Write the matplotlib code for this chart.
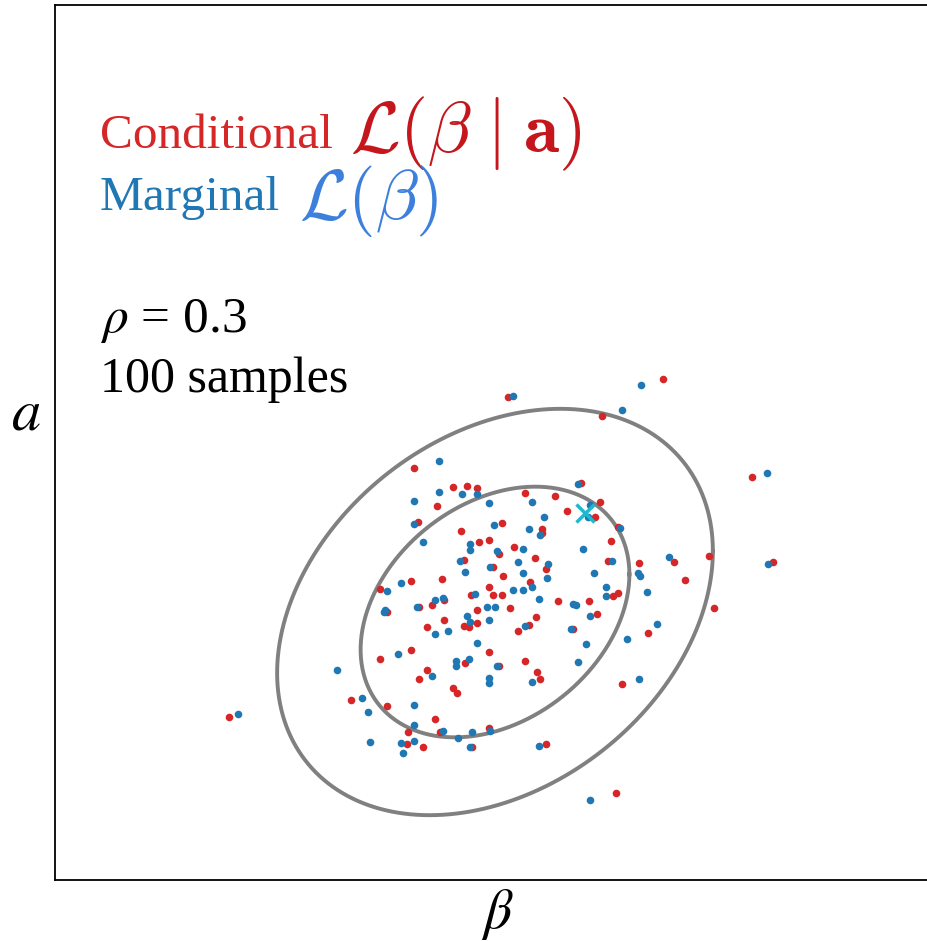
import numpy as np
import matplotlib
matplotlib.use("Agg")
import matplotlib.pyplot as plt

plt.rcParams['font.family'] = ['Liberation Serif', 'DejaVu Serif']
plt.rcParams['mathtext.fontset'] = 'stix'

# samples drawn from the conditional likelihood (red)
cond_beta = [-0.81, -0.42, -0.28, -0.18, -0.58, -0.77, -0.34, -0.16, -0.06, -0.31,
             -0.02, -0.84, -0.53, -1.15, -0.06, -0.24, -0.02, -0.51, -0.63, -0.76,
             -0.18, 0.86, 0.30, 0.60, 0.72, 1.05, 1.00, 0.07, 0.47, 0.47,
             1.23, 1.16, 0.19, 0.04, 0.40, 1.13, 0.51, 0.08, 0.35, 0.07,
             1.18, 1.23, 0.63, 0.94, 0.15, -1.08, -0.51, -0.68, -0.31, -0.26,
             -0.18, -0.84, -1.15, -0.06, -0.30, -0.68, -0.76, -0.42, -0.38, -1.44,
             -1.08, -0.60, -0.87, -0.55, -0.06, -0.88, -0.72, -0.23, -2.66, 1.02,
             0.41, 0.34, 0.23, 0.78, 1.53, 0.30, 0.04, 0.42, 0.45, 1.27,
             0.51, 1.90, 1.21, 0.13, 1.68, 1.07, 1.44, 1.79, 2.57, 2.14,
             2.19, 2.78]
cond_a = [1.44, 1.25, 1.26, 1.24, 1.06, 0.90, 0.81, 0.70, 0.72, 0.52,
          0.45, 0.31, 0.33, 0.23, 0.25, 0.17, 0.17, 0.12, 0.07, 0.05,
          0.02, 1.29, 1.19, 1.16, 1.01, 1.10, 0.95, 0.89, 0.83, 0.79,
          0.85, 0.71, 0.65, 0.58, 0.54, 0.51, 0.43, 0.36, 0.30, 0.17,
          0.16, 0.19, 0.11, 0.11, 0.04, 0.00, -0.08, -0.15, -0.14, -0.15,
          -0.11, -0.38, -0.47, -0.40, -0.51, -0.58, -0.67, -0.76, -0.81, -0.88,
          -0.94, -1.07, -1.20, -1.20, -1.16, -1.32, -1.35, -1.35, -1.05, -0.02,
          -0.05, -0.13, -0.19, -0.17, -0.21, -0.49, -0.54, -0.60, -0.67, -0.72,
          -1.32, 0.32, -1.81, 2.15, 2.33, 1.96, 0.49, 0.50, 1.35, 0.56,
          0.04, 0.50]

# samples drawn from the marginal likelihood (blue)
marg_beta = [-0.56, -0.56, -0.81, -0.81, -0.72, -0.33, -0.18, -0.01, -0.25, -0.25,
             0.02, -0.35, -0.30, -0.05, -0.94, -1.08, -0.20, -0.60, -0.52, -0.78,
             -1.10, -0.08, 0.00, 0.83, 0.37, 0.95, 0.93, 0.49, 0.34, 0.45,
             1.25, 0.28, 0.88, 0.23, 1.17, 0.53, 0.28, 0.99, 0.52, 0.37,
             1.11, 0.18, 0.28, 1.11, 0.44, 0.78, 0.81, -1.11, -0.25, -0.06,
             -0.60, -0.47, -0.18, -0.97, 0.02, -0.39, -0.39, -0.26, -0.63, -0.06,
             -0.06, -1.33, -1.27, -0.81, -0.81, -0.52, -0.37, -0.23, -0.05, -1.25,
             -0.94, -0.81, -0.25, -0.92, -2.57, -1.58, 0.95, 0.30, 0.76, 0.91,
             1.32, 0.83, 0.37, 1.44, 0.44, 1.52, 1.62, 1.43, 1.45, 0.95,
             0.18, 1.46, 1.27, -0.06, -0.28, 1.74, 2.72, 2.73]
marg_a = [1.51, 1.20, 1.11, 0.88, 0.70, 1.18, 1.18, 0.87, 0.68, 0.62,
          0.61, 0.51, 0.40, 0.45, 0.29, 0.21, 0.18, 0.12, 0.14, 0.05,
          0.02, 0.05, 0.05, 1.28, 1.10, 1.07, 0.95, 0.95, 0.83, 0.77,
          0.84, 0.63, 0.63, 0.50, 0.51, 0.48, 0.39, 0.39, 0.34, 0.25,
          0.25, 0.22, 0.22, 0.16, 0.13, 0.08, 0.07, 0.00, -0.10, -0.08,
          -0.22, -0.19, -0.31, -0.42, -0.54, -0.49, -0.54, -0.47, -0.64, -0.66,
          -0.71, -0.86, -1.00, -0.93, -1.13, -1.19, -1.26, -1.20, -1.19, -1.30,
          -1.31, -1.29, -1.35, -1.41, -1.02, -0.58, -0.04, -0.14, -0.17, -0.32,
          -0.27, -0.50, -0.70, -0.67, -1.34, 0.20, -0.12, 0.39, 0.36, -1.88,
          2.16, 2.27, 2.02, 1.09, -0.04, 0.55, 1.39, 0.48]

# true parameter value
true_beta = [0.90]
true_a = [0.99]

# gaussian used for the contours
sd_beta, sd_a, rho = 0.89, 0.83, 0.3
contour_radii = [1.51, 2.448]   # 68% and 95%

fig = plt.figure(figsize=(9.27, 9.41), dpi=100)
ax = fig.add_axes([55 / 927, 61 / 941, 876 / 927, 875 / 941])

cov = np.array([[sd_beta ** 2, rho * sd_beta * sd_a],
                [rho * sd_beta * sd_a, sd_a ** 2]])
chol = np.linalg.cholesky(cov)
t = np.linspace(0, 2 * np.pi, 400)
circle = np.vstack([np.cos(t), np.sin(t)])
for r in contour_radii:
    e = r * chol @ circle
    ax.plot(e[0], e[1], color='#808080', lw=2.8, zorder=1)

ax.scatter(cond_beta, cond_a, s=30, color='#d62728', linewidths=0, zorder=2)
ax.scatter(marg_beta, marg_a, s=30, color='#1f77b4', linewidths=0, zorder=3)
ax.plot(true_beta, true_a, marker='x', color='#1fb8cc', ms=13, mew=2.5,
        ls='none', zorder=4)

ax.set_xlim(-4.40, 4.36)
ax.set_ylim(-2.68, 6.07)
ax.set_xticks([])
ax.set_yticks([])
for s in ax.spines.values():
    s.set_linewidth(1.3)

ax.text(0.0514, 0.8366, 'Conditional', transform=ax.transAxes, fontsize=35.5,
        color='#d62728', va='baseline')
ax.text(0.337, 0.831, r'$\mathcal{L}(\beta\;|\;\mathbf{a})$', transform=ax.transAxes,
        fontsize=52, color='#c4161c', va='baseline', math_fontfamily='cm')
ax.text(0.0514, 0.766, 'Marginal', transform=ax.transAxes, fontsize=35.5,
        color='#1f77b4', va='baseline')
ax.text(0.278, 0.755, r'$\mathcal{L}(\beta)$', transform=ax.transAxes,
        fontsize=51, color='#3c7fdc', va='baseline', math_fontfamily='cm')

ax.text(0.0514, 0.626, r'$\rho$ = 0.3', transform=ax.transAxes, fontsize=37,
        va='baseline')
ax.text(0.0514, 0.558, '100 samples', transform=ax.transAxes, fontsize=36,
        va='baseline')

fig.text(26 / 927, 1 - 415 / 941, r'$a$', fontsize=42, ha='center', va='center')
fig.text(497 / 927, 1 - 915 / 941, r'$\beta$', fontsize=40, ha='center', va='center')

fig.savefig('out.png', dpi=100)
